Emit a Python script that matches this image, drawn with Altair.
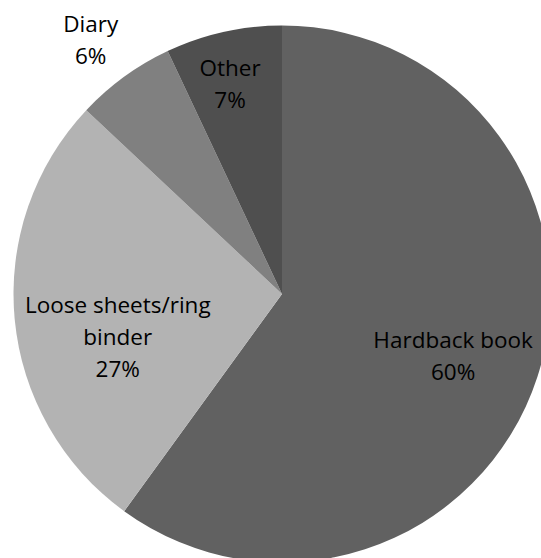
import altair as alt
import pandas as pd

# Notebook formats, clockwise from 12 o'clock
categories = ["Hardback book", "Loose sheets/ring binder", "Diary", "Other"]
shares = [60, 27, 6, 7]
label_lines = [
    ["Hardback book", "60%"],
    ["Loose sheets/ring", "binder", "27%"],
    ["Diary", "6%"],
    ["Other", "7%"],
]
fills = ["#616161", "#b3b3b3", "#808080", "#4f4f4f"]

df = pd.DataFrame({
    "category": categories,
    "share": shares,
    "order": list(range(len(categories))),
    "label": label_lines,
})

CX, CY, R = 282, 294, 268.5
FONT = "Open Sans"

base = alt.Chart(df).transform_window(
    cum="sum(share)", sort=[alt.SortField("order")]
).transform_calculate(
    mid="datum.cum - datum.share / 2"
)

theta_scale = alt.Scale(domain=[0, 100], range=[0, 6.283185307179586])

pie = alt.Chart(df).mark_arc(radius=R).encode(
    theta=alt.Theta("share:Q", stack=True, scale=theta_scale),
    order=alt.Order("order:O"),
    color=alt.Color(
        "category:N",
        scale=alt.Scale(domain=categories, range=fills),
        legend=None,
    ),
    x=alt.value(CX),
    y=alt.value(CY),
)

# label placement per slice: distance from centre plus a small nudge
placement = {
    "Hardback book": dict(radius=182, dx=-2, dy=-9),
    "Loose sheets/ring binder": dict(radius=170, dx=5, dy=-4),
    "Diary": dict(radius=317, dx=-5, dy=-13),
    "Other": dict(radius=215, dx=-5, dy=-15),
}

label_layers = []
for cat in categories:
    p = placement[cat]
    label_layers.append(
        base.transform_filter(alt.datum.category == cat)
        .mark_text(
            radius=p["radius"], dx=p["dx"], dy=p["dy"],
            font=FONT, fontSize=22.5, lineHeight=32,
            align="center", baseline="middle", color="#000000",
        )
        .encode(
            theta=alt.Theta("mid:Q", stack=False, scale=theta_scale),
            text="label",
            x=alt.value(CX),
            y=alt.value(CY),
        )
    )

chart = alt.layer(pie, *label_layers).properties(
    width=541,
    height=558,
    autosize=alt.AutoSizeParams(type="none"),
    padding=0,
    background="#ffffff",
).configure_view(stroke=None)

chart.save("out.html", embed_options={"renderer": "svg", "actions": False})
